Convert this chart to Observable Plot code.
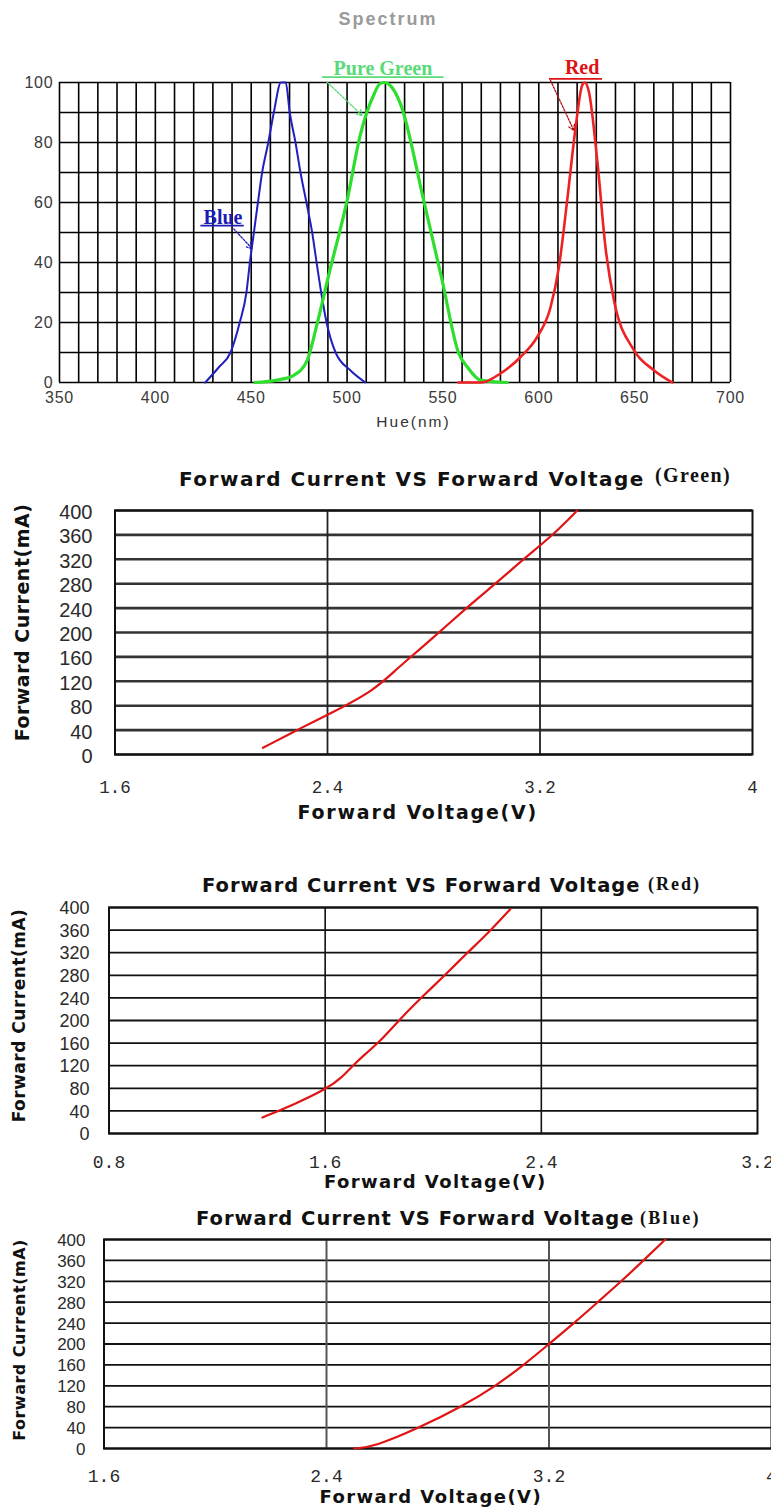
<!DOCTYPE html>
<html><head><meta charset="utf-8">
<script src="https://cdn.jsdelivr.net/npm/d3@7"></script>
<script src="https://cdn.jsdelivr.net/npm/@observablehq/plot@0.6"></script>
<style>
html,body{margin:0;padding:0;background:#fff;}
#page{position:relative;width:771px;height:1508px;overflow:hidden;background:#fff;}
.chart{position:absolute;left:0;}
.chart svg{display:block;}
.t{position:absolute;white-space:nowrap;}
.ttl{font-family:"DejaVu Sans";font-weight:bold;color:#111;}
.ser{font-family:"Liberation Serif";font-weight:bold;color:#111;}
.spt{font-family:"Liberation Sans";font-weight:bold;color:#9a9a9a;}
</style></head>
<body><div id="page"></div>
<script>
// ---------------- Spectrum data ----------------
const specTitle = "Spectrum";
const specXLabel = "Hue(nm)";
const specXTicks = [350, 400, 450, 500, 550, 600, 650, 700];
const specYTicks = [0, 20, 40, 60, 80, 100];
const specGridX = [350,360,370,380,390,400,410,420,430,440,450,460,470,480,490,500,510,520,530,540,550,560,570,580,590,600,610,620,630,640,650,660,670,680,690,700];
const specGridY = [0,10,20,30,40,50,60,70,80,90,100];

const blueNm  = [426, 433, 439.2, 444, 447.5, 449.3, 451.4, 453.5, 455.7, 458.9, 461.8, 465.5, 468, 470.1, 473.1, 475.7, 478.8, 481.8, 484.1, 486.5, 489.3, 494, 501.8, 509.6];
const blueRel = [0, 5, 10, 20, 30, 40, 50, 60, 70, 80, 90, 100, 100, 90, 80, 70, 60, 50, 40, 30, 20, 10, 4, 0];

const greenNm  = [452, 463.5, 472.2, 479.2, 484.4, 490.5, 500, 507, 514, 517, 519.5, 522, 527.9, 540, 549.6, 558.3, 562.7, 569.6, 583.5];
const greenRel = [0, 0.8, 2.4, 7.4, 19.6, 36, 60.6, 82.8, 96, 99.5, 100, 99.3, 92.8, 60.6, 34, 9.6, 5.2, 0.8, 0];

const redNm  = [558, 570, 580, 590.5, 599.2, 606.1, 610.5, 614.8, 619.2, 622.6, 624, 626.1, 630.5, 634.8, 639.2, 649.6, 660, 669.6];
const redRel = [0, 0, 3, 8.5, 15.2, 25, 38.5, 60.6, 85, 99, 100, 97, 74, 45, 27.4, 10.8, 4.1, 0];

// annotations (data coordinates)
const annLabels  = ["Blue", "Pure Green", "Red"];
const annColors  = ["#1c1cb4", "#5ada78", "#dc1414"];
const annArrowColors = ["#1c1cb4", "#5ada78", "#b01010"];
const annNm      = [435.3, 518.7, 622.6];
const annRel     = [55.1, 104.7, 105];
const annUlNm1   = [423.5, 487, 605.3];
const annUlNm2   = [446.1, 550.3, 633];
const annUlRel   = [52.3, 101.8, 101.2];
const annArrNm1  = [440.9, 489.6, 606.1];
const annArrRel1 = [51.2, 100.1, 100.7];
const annArrNm2  = [450.5, 507.9, 618.3];
const annArrRel2 = [44.6, 89, 84];

// ---------------- IV data ----------------
const ivTitle = "Forward Current VS Forward Voltage";
const ivTags = ["(Green)", "(Red)", "(Blue)"];
const ivXLabel = "Forward Voltage(V)";
const ivYLabel = "Forward Current(mA)";
const ivYTicks = [0, 40, 80, 120, 160, 200, 240, 280, 320, 360, 400];

const grnXTicks = [1.6, 2.4, 3.2, 4];
const grnXGrid = [2.4, 3.2];
const grnV = [2.157, 2.306, 2.408, 2.576, 2.66, 2.772, 2.94, 3.033, 3.145, 3.247, 3.34];
const grnI = [11, 44.8, 66.6, 104.9, 140.4, 181.4, 247, 280, 323, 359, 400];

const redXTicks = [0.8, 1.6, 2.4, 3.2];
const redXGrid = [1.6, 2.4];
const redV = [1.368, 1.496, 1.603, 1.661, 1.716, 1.799, 1.881, 1.955, 2.046, 2.12, 2.211, 2.285];
const redI = [28.4, 53.8, 78.7, 98.2, 127.8, 160.3, 204.7, 240, 281.6, 317, 358.5, 397];

const bluXTicks = [1.6, 2.4, 3.2, 4];
const bluXGrid = [2.4, 3.2];
const bluV = [2.50, 2.57, 2.735, 2.885, 3.01, 3.11, 3.2, 3.29, 3.375, 3.46, 3.54, 3.618];
const bluI = [0, 3, 40, 80, 120, 160, 200, 240, 280, 320, 360, 400];

// ---------------- helpers ----------------
const page = document.getElementById("page");
function place(node, top) {
  const d = document.createElement("div");
  d.className = "chart"; d.style.top = top + "px";
  d.appendChild(node); page.appendChild(d); return node;
}
function addText(str, left, top, cls, fs, ls, center) {
  const d = document.createElement("div");
  d.className = "t " + cls; d.textContent = str;
  Object.assign(d.style, {left: left + "px", top: top + "px", fontSize: fs + "px", lineHeight: fs + "px", letterSpacing: ls + "px"});
  if (center) d.style.transform = "translateX(-50%)";
  page.appendChild(d);
}
function spaceText(svg, str, px) {
  d3.select(svg).selectAll("text").filter(function () { return this.textContent === str; }).style("letter-spacing", px + "px");
}
const zip2 = (a, b) => a.map((v, i) => [v, b[i]]);

// ---------------- Spectrum chart ----------------
const ann = annLabels.map((t, i) => ({t, c: annColors[i], ac: annArrowColors[i], x: annNm[i], y: annRel[i],
  ux1: annUlNm1[i], ux2: annUlNm2[i], uy: annUlRel[i],
  ax1: annArrNm1[i], ay1: annArrRel1[i], ax2: annArrNm2[i], ay2: annArrRel2[i]}));

const spec = Plot.plot({
  width: 771, height: 440,
  marginLeft: 59, marginRight: 41, marginTop: 82, marginBottom: 58,
  x: {domain: [350, 700]}, y: {domain: [0, 100]},
  style: {fontFamily: "Liberation Sans", fontSize: "16px", color: "#333", background: "transparent", overflow: "visible"},
  marks: [
    Plot.ruleX(specGridX, {stroke: "#000", strokeWidth: 1.6}),
    Plot.ruleY(specGridY, {stroke: "#000", strokeWidth: 1.6}),
    Plot.axisX({ticks: specXTicks, tickSize: 0, tickPadding: 9.5, fontFamily: "Liberation Sans", fontSize: 16, fill: "#3a3a3a", label: null}),
    Plot.axisY({ticks: specYTicks, tickSize: 0, tickPadding: 6, fontFamily: "Liberation Sans", fontSize: 16, fill: "#3a3a3a", label: null}),
    Plot.line(zip2(blueNm, blueRel), {x: d => d[0], y: d => d[1], stroke: "#2020c0", strokeWidth: 2, curve: "monotone-x"}),
    Plot.line(zip2(greenNm, greenRel), {x: d => d[0], y: d => d[1], stroke: "#2ede2e", strokeWidth: 3.2, curve: "monotone-x"}),
    Plot.line(zip2(redNm, redRel), {x: d => d[0], y: d => d[1], stroke: "#ee2222", strokeWidth: 2.6, curve: "monotone-x"}),
    Plot.link(ann, {x1: "ux1", x2: "ux2", y1: "uy", y2: "uy", stroke: "c", strokeWidth: 1.6}),
    Plot.arrow(ann, {x1: "ax1", y1: "ay1", x2: "ax2", y2: "ay2", stroke: "ac", strokeWidth: 1.3, strokeDasharray: "2,1.5", headLength: 7, insetEnd: 0, insetStart: 0}),
    Plot.text(ann, {x: "x", y: "y", text: "t", fill: "c", fontFamily: "Liberation Serif", fontWeight: "bold", fontSize: 20}),
    Plot.text([specXLabel], {frameAnchor: "bottom", textAnchor: "middle", lineAnchor: "middle", text: d => d, dx: 18.5, dy: 39.5, fontFamily: "Liberation Sans", fontSize: 15.5, fill: "#333"})
  ]
});
d3.select(spec).selectAll('g[aria-label="x-axis tick label"] text, g[aria-label="y-axis tick label"] text').style("letter-spacing", "0.8px");
spaceText(spec, specXLabel, 2);
place(spec, 0);

// ---------------- IV charts ----------------
function ivChart(o) {
  const svg = Plot.plot({
    width: 771, height: o.height,
    marginLeft: o.mL, marginRight: o.mR, marginTop: o.mT, marginBottom: o.mB,
    x: {domain: o.xDomain}, y: {domain: [0, 400]},
    style: {fontFamily: "Liberation Sans", fontSize: "18px", color: "#222", background: "transparent", overflow: "visible"},
    marks: [
      Plot.ruleY(ivYTicks, {stroke: o.hStroke, strokeWidth: o.hWidth}),
      Plot.ruleX(o.vGrid, {stroke: o.vStroke, strokeWidth: o.vWidth}),
      Plot.frame({stroke: "#111", strokeWidth: 2}),
      Plot.axisY({ticks: ivYTicks, tickSize: 0, tickPadding: o.yPad, fontFamily: "Liberation Sans", fontSize: o.yFs, fill: "#2a2a2a", dy: o.yDy, label: null}),
      Plot.axisX({ticks: o.xTicks, tickSize: 0, tickPadding: o.xPad, tickFormat: d => String(d), fontFamily: "Liberation Mono", fontSize: o.xFs, fill: "#2a2a2a", label: null}),
      Plot.line(zip2(o.V, o.I), {x: d => d[0], y: d => d[1], stroke: "#e01414", strokeWidth: 2.2, curve: "basis"}),
      Plot.text([ivXLabel], {frameAnchor: "bottom", textAnchor: "middle", lineAnchor: "middle", dx: o.xlDx, dy: o.xlDy, text: d => d, fontFamily: "DejaVu Sans", fontWeight: "bold", fontSize: o.xlFs, fill: "#111"}),
      Plot.text([ivYLabel], {frameAnchor: "left", textAnchor: "middle", lineAnchor: "middle", rotate: -90, dx: o.ylDx, dy: o.ylDy, text: d => d, fontFamily: "DejaVu Sans", fontWeight: "bold", fontSize: o.ylFs, fill: "#111"})
    ]
  });
  spaceText(svg, ivXLabel, o.xlLs);
  spaceText(svg, ivYLabel, 0.5);
  return place(svg, o.top);
}

ivChart({top: 460, height: 370, mL: 114.5, mR: 19, mT: 50, mB: 76, xDomain: [1.6, 4], xTicks: grnXTicks, vGrid: grnXGrid,
  V: grnV, I: grnI, hStroke: "#333", hWidth: 2.6, vStroke: "#222", vWidth: 1.8,
  yPad: 22.5, yFs: 20, yDy: 2, xPad: 25.6, xFs: 17.5,
  xlDx: -16, xlDy: 58, xlFs: 19, xlLs: 1.8, ylDx: -92.5, ylDy: -10, ylFs: 19});

ivChart({top: 860, height: 340, mL: 108.5, mR: 14, mT: 47, mB: 67, xDomain: [0.8, 3.2], xTicks: redXTicks, vGrid: redXGrid,
  V: redV, I: redI, hStroke: "#111", hWidth: 1.8, vStroke: "#111", vWidth: 1.6,
  yPad: 19.5, yFs: 18, yDy: 1, xPad: 21.6, xFs: 18,
  xlDx: 2, xlDy: 49, xlFs: 18, xlLs: 1.4, ylDx: -89.5, ylDy: -5, ylFs: 17});

ivChart({top: 1200, height: 308, mL: 103.5, mR: 0, mT: 39, mB: 60, xDomain: [1.6, 4], xTicks: bluXTicks, vGrid: bluXGrid,
  V: bluV, I: bluI, hStroke: "#111", hWidth: 1.8, vStroke: "#555", vWidth: 2,
  yPad: 18.5, yFs: 17, yDy: 1, xPad: 20.8, xFs: 18,
  xlDx: -7, xlDy: 49, xlFs: 18, xlLs: 1.4, ylDx: -84.5, ylDy: -4, ylFs: 16});

// ---------------- titles ----------------
addText(specTitle, 388, 9.6, "spt", 18, 2, true);
addText(ivTitle, 179, 469, "ttl", 20, 1.5);
addText(ivTags[0], 655, 465, "ser", 20, 1.4);
addText(ivTitle, 202, 875.5, "ttl", 19.5, 1);
addText(ivTags[1], 648, 875, "ser", 18, 2);
addText(ivTitle, 196, 1208.5, "ttl", 19.5, 1);
addText(ivTags[2], 640, 1209, "ser", 18, 2.3);
</script></body></html>
